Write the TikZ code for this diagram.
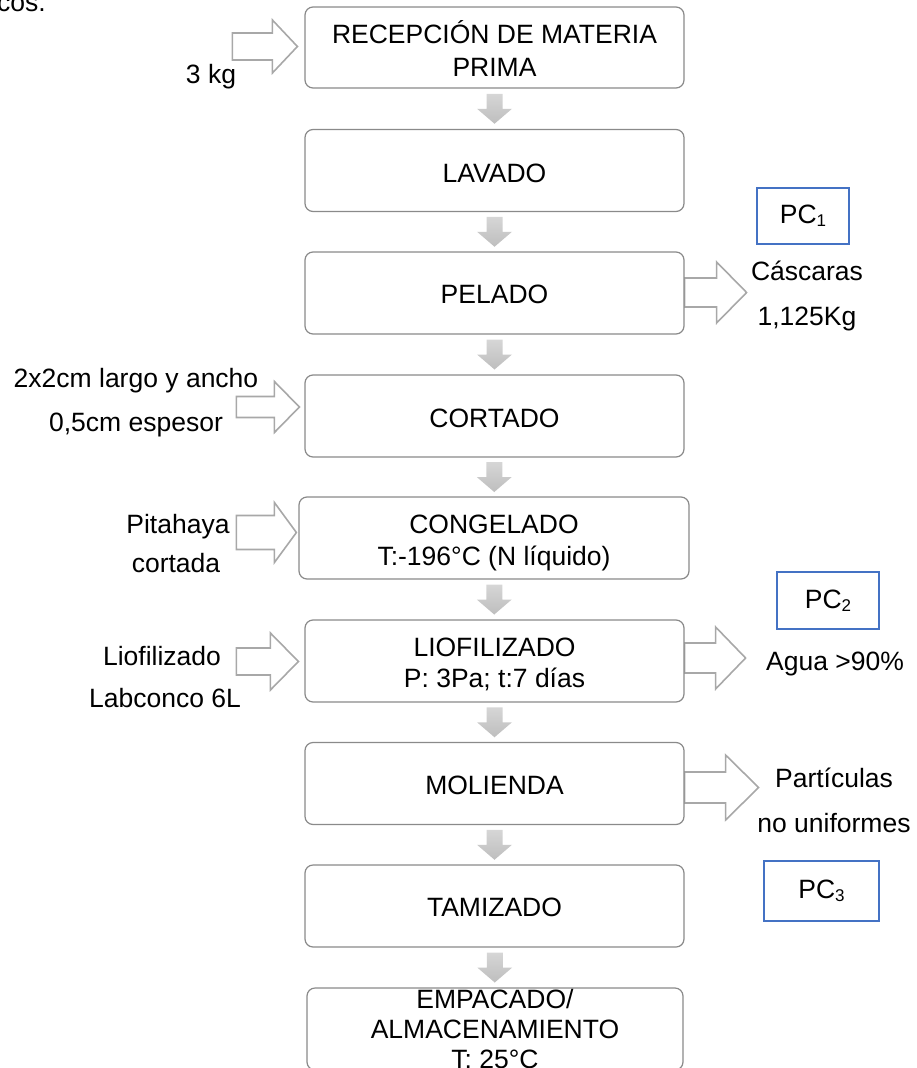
\documentclass[tikz,border=0pt]{standalone}
\usepackage{fontspec}
\setmainfont{Liberation Sans}
\usetikzlibrary{calc,backgrounds}

\definecolor{boxline}{HTML}{8A8A8A}
\definecolor{arrline}{HTML}{A8A8A8}
\definecolor{pcblue}{HTML}{4472C4}
\definecolor{arrtop}{HTML}{D6D6D6}
\definecolor{arrbot}{HTML}{BEBEBE}

% outlined block arrow pointing right:
% #1 tail point, #2 shaft length, #3 head length, #4 shaft half-height, #5 head half-height
\newcommand\sidearrow[5]{%
  \draw[blockarr] (#1) ++(0,-#4) -- ++(#2,0) -- ++(0,#4-#5) -- ++(#3,#5)
    -- ++(-#3,#5) -- ++(0,#4-#5) -- ++(-#2,0) -- cycle;}
% shaded arrow pointing down, centred in the gap between two steps
\newcommand\flowarrow[2]{%
  \path[downarr] ($(#1.south)!0.5!(#2.north)$) ++(-8,-15) -- ++(16,0) -- ++(0,15)
    -- ++(9.5,0) -- ++(-17.5,15) -- ++(-17.5,-15) -- ++(9.5,0) -- cycle;}
\newcommand\pcsub[1]{\raisebox{-3pt}{\fontsize{17}{17}\selectfont #1}}

\begin{document}
\begin{tikzpicture}[x=1pt,y=-1pt,
  txt/.style={font={\fontsize{26.5}{31}\selectfont}, inner sep=0pt, anchor=base},
  stepbox/.style={draw=boxline, line width=1.2pt, rounded corners=8pt, fill=white,
    minimum width=379pt, minimum height=82pt, inner sep=0pt},
  pcbox/.style={draw=pcblue, line width=2pt, inner sep=0pt, fill=white,
    font={\fontsize{26.5}{31}\selectfont}},
  blockarr/.style={draw=arrline, line width=1.6pt, fill=white, line join=miter},
  downarr/.style={top color=arrtop, bottom color=arrbot}]
\useasboundingbox (0,0) rectangle (917,1068);
\clip (0,0) rectangle (917,1068);

% process steps
\node[stepbox, minimum height=81pt] (recep) at (494.5,47.5) {};
\node[stepbox] (lav)  at (494.5,170.5) {};
\node[stepbox] (pel)  at (494.5,293) {};
\node[stepbox] (cort) at (494.5,416) {};
\node[stepbox, minimum width=390pt] (cong) at (494,538) {};
\node[stepbox] (lio)  at (494.5,661) {};
\node[stepbox] (mol)  at (494.5,783.5) {};
\node[stepbox] (tam)  at (494.5,906) {};
\node[stepbox, minimum width=376pt] (emp) at (495,1029) {};

% step labels
\node[txt] (recep-a) at (494.5,43)  {RECEPCIÓN DE MATERIA};
\node[txt] (recep-b) at (494.5,76)  {PRIMA};
\node[txt] (lav-a)   at (494.5,182) {LAVADO};
\node[txt] (pel-a)   at (494.5,303) {PELADO};
\node[txt] (cort-a)  at (494.5,427) {CORTADO};
\node[txt] (cong-a)  at (494,533.5) {CONGELADO};
\node[txt] (cong-b)  at (494,565)   {T:-196°C (N líquido)};
\node[txt] (lio-a)   at (494.5,656) {LIOFILIZADO};
\node[txt] (lio-b)   at (494.5,687) {P: 3Pa; t:7 días};
\node[txt] (mol-a)   at (494.5,794) {MOLIENDA};
\node[txt] (tam-a)   at (494.5,916.5) {TAMIZADO};
\node[txt] (emp-a)   at (495,1008)  {EMPACADO/};
\node[txt] (emp-b)   at (495,1038)  {ALMACENAMIENTO};
\node[txt] (emp-c)   at (495,1068.5) {T: 25°C};

% inputs and outputs
\begin{scope}[on background layer]
  \sidearrow{$(recep.west)+(-72,-1)$}{40}{25}{13.5}{26.5}
  \sidearrow{$(cort.west)+(-68,-9)$}{38}{25}{10.5}{25.5}
  \sidearrow{$(cong.west)+(-62,-5.5)$}{38}{22}{17}{30}
  \sidearrow{$(lio.west)+(-68,0.5)$}{34}{28}{13.5}{28.5}
  \sidearrow{$(pel.east)+(0,-0.5)$}{32}{30}{14.5}{30.5}
  \sidearrow{$(lio.east)+(0,-3)$}{31}{30}{15}{31}
  \sidearrow{$(mol.east)+(0,4)$}{41}{33}{15.5}{32.5}
\end{scope}

% flow between steps
\flowarrow{recep}{lav}
\flowarrow{lav}{pel}
\flowarrow{pel}{cort}
\flowarrow{cort}{cong}
\flowarrow{cong}{lio}
\flowarrow{lio}{mol}
\flowarrow{mol}{tam}
\flowarrow{tam}{emp}

% side texts
\node[txt, anchor=base west] (prev) at (-3,12) {cos.};
\node[txt] (in-kg)   at (211,83)  {3 kg};
\node[txt] (in-c1)   at (136,387) {2x2cm largo y ancho};
\node[txt] (in-c2)   at (136,431) {0,5cm espesor};
\node[txt] (in-p1)   at (178,533) {Pitahaya};
\node[txt] (in-p2)   at (176,572) {cortada};
\node[txt] (in-l1)   at (162,665) {Liofilizado};
\node[txt] (in-l2)   at (165,707) {Labconco 6L};
\node[txt] (out-c1)  at (807,280) {Cáscaras};
\node[txt] (out-c2)  at (807,325) {1,125Kg};
\node[txt] (out-a)   at (835,670) {Agua >90\%};
\node[txt] (out-p1)  at (834,787) {Partículas};
\node[txt] (out-p2)  at (834,832) {no uniformes};

% control points
\node[pcbox, minimum width=92pt, minimum height=56pt] (pc1) at (803,216) {PC\pcsub{1}};
\node[pcbox, minimum width=102pt, minimum height=57pt] (pc2) at (828,600.5) {PC\pcsub{2}};
\node[pcbox, minimum width=115pt, minimum height=60pt] (pc3) at (821.5,891) {PC\pcsub{3}};
\end{tikzpicture}
\end{document}
